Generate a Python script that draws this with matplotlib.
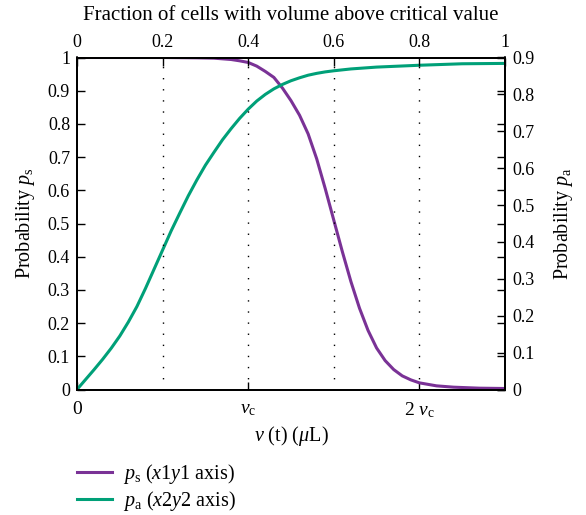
# Probabilities p_s and p_a versus cell volume (two pairs of axes)

import numpy as np
import matplotlib.pyplot as plt

plt.rcParams['font.family'] = ['Liberation Serif', 'DejaVu Serif']
plt.rcParams['mathtext.fontset'] = 'custom'
plt.rcParams['mathtext.rm'] = 'Liberation Serif'
plt.rcParams['mathtext.it'] = 'Liberation Serif:italic'
plt.rcParams['font.size'] = 13

# volume in units of v_c
v_s = [0, 0.5, 0.7, 0.8, 0.9, 0.95, 1.0, 1.05, 1.1, 1.15, 1.2, 1.25, 1.3, 1.35, 1.4, 1.45,
       1.5, 1.55, 1.6, 1.65, 1.7, 1.75, 1.8, 1.85, 1.9, 1.95, 2.0, 2.1, 2.2, 2.35, 2.5]
p_s = [1.0, 1.0, 0.999, 0.998, 0.994, 0.99, 0.985, 0.974, 0.958, 0.94, 0.908, 0.87, 0.826, 0.77, 0.695, 0.605,
       0.51, 0.415, 0.325, 0.245, 0.178, 0.125, 0.087, 0.06, 0.041, 0.029, 0.02, 0.011, 0.007, 0.004, 0.003]

v_a = [0, 0.05, 0.1, 0.15, 0.2, 0.25, 0.3, 0.35, 0.4, 0.45, 0.5, 0.55, 0.6, 0.65, 0.7, 0.75, 0.8,
       0.85, 0.9, 0.95, 1.0, 1.05, 1.1, 1.15, 1.2, 1.25, 1.3, 1.35, 1.4, 1.45, 1.5, 1.6, 1.75,
       2.0, 2.25, 2.5]
p_a = [0, 0.027, 0.054, 0.082, 0.112, 0.145, 0.183, 0.225, 0.274, 0.326, 0.378, 0.43, 0.478, 0.525, 0.568, 0.608, 0.643,
       0.677, 0.707, 0.735, 0.76, 0.782, 0.8, 0.815, 0.827, 0.837, 0.845, 0.852, 0.857, 0.861, 0.864, 0.869, 0.874,
       0.879, 0.883, 0.884]

frac_ticks = [0, 0.2, 0.4, 0.6, 0.8, 1]

purple = '#7a3296'
green = '#00a078'

fig = plt.figure(figsize=(5.86, 5.15), dpi=100)
ax = fig.add_axes([77/586, 1-389.5/515, 428/586, 332/515])

ax.plot(v_s, p_s, color=purple, lw=2.2, solid_joinstyle='round', label=r'$p_\mathrm{s}$ ($x$1$y$1 axis)')
ax.set_xlim(0, 2.5)
ax.set_ylim(0, 1)
ax.set_yticks(np.arange(0, 1.01, 0.1))
ax.set_yticklabels(['0', '0.1', '0.2', '0.3', '0.4', '0.5', '0.6', '0.7', '0.8', '0.9', '1'])
ax.set_xticks([0, 1, 2])
ax.set_xticklabels(['0', r'$v_\mathrm{c}$', r'2 $v_\mathrm{c}$'], fontsize=14)
ax.set_xlabel(r'$v$ (t) ($\mu$L)', fontsize=14.5, labelpad=3)
ax.set_ylabel(r'Probability $p_\mathrm{s}$', fontsize=14.5, labelpad=8)

ax2 = ax.twinx()
ax2.plot(v_a, p_a, color=green, lw=2.2, solid_joinstyle='round', label=r'$p_\mathrm{a}$ ($x$2$y$2 axis)')
ax2.set_ylim(0, 0.9)
ax2.set_yticks(np.arange(0, 0.91, 0.1))
ax2.set_yticklabels(['0', '0.1', '0.2', '0.3', '0.4', '0.5', '0.6', '0.7', '0.8', '0.9'])
ax2.set_ylabel(r'Probability $p_\mathrm{a}$', fontsize=14.5, labelpad=13)

ax3 = ax.twiny()
ax3.set_xlim(0, 1)
ax3.set_xticks(frac_ticks)
ax3.set_xticklabels(['0', '0.2', '0.4', '0.6', '0.8', '1'])
ax3.set_title('Fraction of cells with volume above critical value', fontsize=15, pad=10)
for f in frac_ticks[1:-1]:
    ax3.axvline(f, color='black', lw=1, ls=(0, (1, 7)), zorder=0)

for a in (ax, ax2, ax3):
    a.tick_params(direction='in', length=6, width=1, pad=5)
ax.tick_params(axis='x', pad=8)
ax.tick_params(axis='y', right=True)
for a in (ax, ax2, ax3):
    for s in a.spines.values():
        s.set_linewidth(1.2)

h1, l1 = ax.get_legend_handles_labels()
h2, l2 = ax2.get_legend_handles_labels()
fig.legend(h1 + h2, l1 + l2, loc='upper left', bbox_to_anchor=(69/586, 1-454/515),
           frameon=False, fontsize=14.5, handlelength=1.75, handletextpad=0.55,
           labelspacing=0.15, borderaxespad=0)

fig.savefig('out.png', dpi=100)
